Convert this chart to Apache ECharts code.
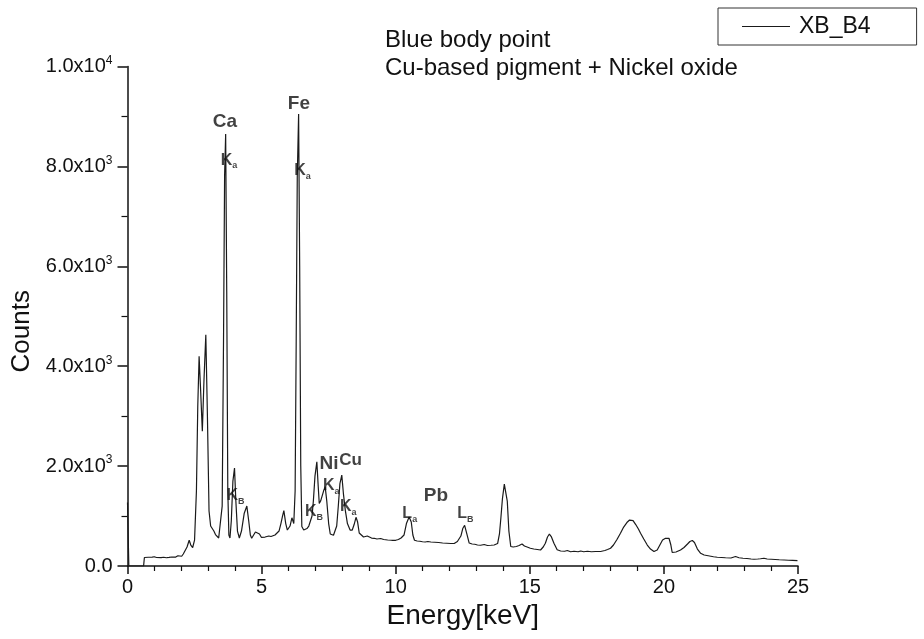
<!DOCTYPE html>
<html><head><meta charset="utf-8">
<script src="https://cdn.jsdelivr.net/npm/echarts@6/dist/echarts.min.js"></script>
<style>html,body{margin:0;padding:0;background:#fff}#c{width:924px;height:639px}</style>
</head><body><div id="c"></div>
<script>
// Energy (keV) and counts
const energy = [
0.00,0.05,0.60,0.63,0.70,0.78,0.85,0.92,1.00,1.08,1.15,1.25,1.35,1.45,1.55,1.65,1.72,1.80,1.88,1.95,
2.02,2.08,2.15,2.22,2.30,2.36,2.43,2.50,2.57,2.62,2.67,2.72,2.79,2.85,2.92,2.98,3.04,3.10,3.17,3.22,
3.28,3.35,3.40,3.47,3.53,3.58,3.62,3.66,3.70,3.74,3.78,3.82,3.87,3.93,3.99,4.04,4.10,4.17,4.25,4.35,
4.45,4.52,4.58,4.63,4.70,4.77,4.84,4.92,4.99,5.06,5.13,5.20,5.27,5.35,5.42,5.50,5.56,5.65,5.72,5.78,
5.83,5.90,5.96,6.00,6.06,6.13,6.20,6.25,6.29,6.33,6.38,6.42,6.46,6.50,6.57,6.62,6.69,6.76,6.81,6.88,
6.93,6.99,7.06,7.11,7.15,7.20,7.25,7.31,7.37,7.43,7.50,7.56,7.62,7.68,7.74,7.80,7.86,7.92,7.99,8.05,
8.12,8.20,8.30,8.38,8.45,8.52,8.58,8.64,8.72,8.80,8.86,8.94,9.02,9.10,9.20,9.30,9.44,9.55,9.70,9.85,
10.00,10.10,10.20,10.31,10.40,10.50,10.58,10.64,10.70,10.80,10.90,11.00,11.10,11.20,11.31,11.45,11.60,11.75,11.90,12.05,
12.18,12.30,12.43,12.50,12.57,12.65,12.74,12.85,12.95,13.05,13.17,13.30,13.42,13.55,13.67,13.80,13.87,13.92,13.98,14.05,
14.10,14.16,14.22,14.29,14.38,14.50,14.60,14.71,14.80,14.90,15.02,15.15,15.28,15.40,15.50,15.58,15.66,15.73,15.80,15.90,
16.02,16.15,16.30,16.40,16.52,16.65,16.80,16.90,17.01,17.15,17.30,17.45,17.64,17.80,17.90,18.01,18.12,18.25,18.38,18.50,
18.62,18.72,18.78,18.85,18.95,19.05,19.13,19.25,19.38,19.50,19.63,19.75,19.85,19.95,20.06,20.12,20.19,20.26,20.31,20.45,
20.62,20.75,20.88,20.97,21.06,21.14,21.25,21.37,21.50,21.70,21.85,21.99,22.15,22.30,22.50,22.67,22.80,22.95,23.10,23.25,
23.36,23.50,23.60,23.73,23.85,24.00,24.15,24.30,24.48,24.65,24.80,24.98
];
const counts = [
1270,0,0,170,185,175,190,178,185,170,182,168,175,165,172,180,195,178,205,185,
195,240,250,380,515,420,370,520,1500,3200,4200,3600,2700,3700,4630,3000,1100,800,830,700,
630,600,560,560,1200,4500,7800,8650,5500,1500,620,560,900,1700,1960,1300,700,560,700,1050,
1200,900,620,555,580,680,715,640,575,555,580,570,600,590,615,620,635,700,850,1000,
1110,850,720,700,800,965,850,1500,4500,7800,9050,6000,2000,790,720,700,750,800,820,1000,
1300,1800,2085,1600,1250,1300,1390,1500,1590,1300,850,640,620,615,625,800,1200,1650,1820,1450,
1120,850,720,720,830,975,880,660,620,580,560,600,580,560,555,540,550,530,520,515,
515,530,560,620,850,980,880,620,515,500,495,485,480,490,480,475,470,460,455,450,
450,490,600,750,815,650,460,440,435,420,415,430,410,415,420,450,650,950,1350,1640,
1660,1300,700,390,380,390,410,440,400,380,355,340,330,320,380,455,580,640,590,455,
325,300,295,310,285,295,285,300,285,295,285,290,290,310,330,355,420,530,655,780,
870,920,935,910,830,740,655,540,420,340,290,320,420,520,555,540,555,420,270,280,
320,370,440,490,510,470,340,255,220,200,185,175,170,165,160,190,165,155,150,140,
135,140,145,155,140,135,130,125,120,115,112,107
];
// Peak annotations: [energy, counts, text, anchor]
const peakLabels = [
  [3.63, 8890, '{e|Ca}', 'c'],
  [3.46, 8120, '{k|K}{a|a}', 'l'],
  [6.39, 9250, '{e|Fe}', 'c'],
  [6.20, 7910, '{k|K}{a|a}', 'l'],
  [3.67, 1400, '{k|K}{a|B}', 'l'],
  [6.60, 1090, '{k|K}{a|B}', 'l'],
  [7.14, 2050, '{e|Ni}', 'l'],
  [7.88, 2110, '{c|Cu}', 'l'],
  [7.27, 1610, '{k|K}{a|a}', 'l'],
  [7.90, 1190, '{k|K}{a|a}', 'l'],
  [11.50, 1410, '{e|Pb}', 'c'],
  [10.23, 1050, '{k|L}{a|a}', 'l'],
  [12.28, 1050, '{k|L}{a|B}', 'l']
];
const xTicks = [0, 5, 10, 15, 20, 25];
const yTickValues = [0, 2000, 4000, 6000, 8000, 10000];
const yTickLabels = ['{b|0.0}', '{b|2.0x10}{s|3}', '{b|4.0x10}{s|3}', '{b|6.0x10}{s|3}', '{b|8.0x10}{s|3}', '{b|1.0x10}{s|4}'];
const seriesName = 'XB_B4';
const titleLines = ['Blue body point', 'Cu-based pigment + Nickel oxide'];

const FONT = 'Liberation Sans, Arial, sans-serif';
const chart = echarts.init(document.getElementById('c'), null, {renderer: 'canvas'});
const lineData = energy.map((e, i) => [e, counts[i]]);
const richLbl = {
  e: {fontSize: 19, fontWeight: 'bold', color: '#111', fontFamily: FONT},
  c: {fontSize: 17, fontWeight: 'bold', color: '#111', fontFamily: FONT, verticalAlign: 'top'},
  k: {fontSize: 16, fontWeight: 'bold', color: '#111', fontFamily: FONT, lineHeight: 20},
  a: {fontSize: 9, fontWeight: 'bold', color: '#111', fontFamily: FONT, verticalAlign: 'bottom', lineHeight: 11}
};
const labelSeries = ['l', 'c'].map(anchor => ({
  type: 'scatter', silent: true, symbolSize: 1,
  itemStyle: {color: 'rgba(0,0,0,0)'},
  data: peakLabels.filter(p => p[3] === anchor).map(p => ({value: [p[0], p[1]], name: p[2]})),
  label: {
    show: true, position: anchor === 'l' ? 'right' : 'inside', distance: 0,
    formatter: p => p.name, rich: richLbl
  },
  z: 5
}));

chart.setOption({
  animation: false,
  backgroundColor: '#fff',
  title: {
    text: titleLines.join('\n'), left: 380, top: 21,
    textStyle: {fontSize: 24, fontWeight: 'normal', color: '#111', fontFamily: FONT, lineHeight: 28}
  },
  legend: {
    data: [seriesName], left: 718, top: 8,
    padding: [7, 46, 7, 24], itemGap: 0,
    borderColor: '#333', borderWidth: 1, borderRadius: 0,
    icon: 'rect', itemWidth: 48, itemHeight: 1,
    textStyle: {fontSize: 23, color: '#111', fontFamily: FONT, padding: [0, 0, 0, 4]}
  },
  grid: {left: 127.5, right: 126, top: 66.5, bottom: 73, containLabel: false},
  xAxis: {
    type: 'value', min: 0, max: 25, interval: 5,
    name: 'Energy[keV]', nameLocation: 'middle', nameGap: 35,
    nameTextStyle: {fontSize: 28, color: '#111', fontFamily: FONT},
    axisLine: {show: true, onZero: false, lineStyle: {color: '#111', width: 1.5}},
    axisTick: {show: true, length: 8, lineStyle: {color: '#111', width: 1.5}},
    minorTick: {show: true, splitNumber: 5, length: 5, lineStyle: {color: '#111', width: 1.2}},
    axisLabel: {fontSize: 20, color: '#111', fontFamily: FONT, margin: 11,
      formatter: v => xTicks.includes(v) ? String(v) : ''},
    splitLine: {show: false}
  },
  yAxis: {
    type: 'value', min: 0, max: 10000, interval: 2000,
    name: 'Counts', nameLocation: 'middle', nameGap: 90,
    nameTextStyle: {fontSize: 26, color: '#111', fontFamily: FONT, padding: [0, 30, 0, 0]},
    axisLine: {show: true, onZero: false, lineStyle: {color: '#111', width: 1.5}},
    axisTick: {show: true, length: 10, lineStyle: {color: '#111', width: 1.5}},
    minorTick: {show: true, splitNumber: 2, length: 6, lineStyle: {color: '#111', width: 1.2}},
    axisLabel: {
      color: '#111', fontFamily: FONT, margin: 15,
      formatter: v => { const i = yTickValues.indexOf(v); return i >= 0 ? yTickLabels[i] : ''; },
      rich: {
        b: {fontSize: 20, color: '#111', fontFamily: FONT, lineHeight: 24},
        s: {fontSize: 12, color: '#111', fontFamily: FONT, verticalAlign: 'top', lineHeight: 14}
      }
    },
    splitLine: {show: false}
  },
  series: [{
    name: seriesName, type: 'line', data: lineData,
    showSymbol: false, symbol: 'none',
    lineStyle: {color: '#1a1a1a', width: 1.2},
    itemStyle: {color: '#1a1a1a'},
    z: 3
  }].concat(labelSeries)
});
</script></body></html>
